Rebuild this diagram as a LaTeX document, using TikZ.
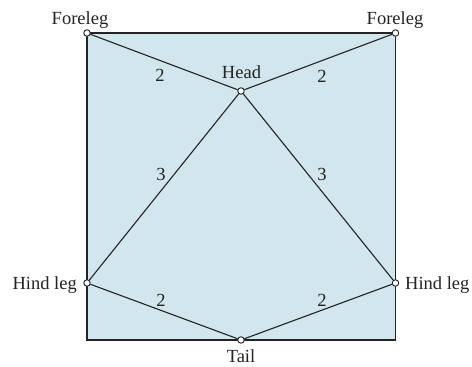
\documentclass[tikz,border=0pt]{standalone}
\usepackage{fontspec}
\setmainfont{Liberation Serif}
\definecolor{panel}{RGB}{209,230,237}
\definecolor{ink}{RGB}{35,35,35}
\begin{document}
\begin{tikzpicture}[x=1pt,y=-1pt,
  joint/.style={circle,draw=ink,fill=white,line width=0.9pt,inner sep=0pt,minimum size=6.5pt},
  edge/.style={draw=ink,line width=1.1pt},
  lbl/.style={font=\fontsize{18.5}{20}\selectfont,text=ink,inner sep=0pt},
  wt/.style={font=\fontsize{18.5}{20}\selectfont,text=ink,inner sep=0pt}]
\useasboundingbox (0,0) rectangle (472,367);
\fill[panel] (87,33) rectangle (395.5,340);
\draw[ink,line width=1.2pt] (87,33) rectangle (395.5,340);
\node[joint] (fl) at (87,33) {};
\node[joint] (fr) at (395.5,33) {};
\node[joint] (h) at (241,91) {};
\node[joint] (hl) at (87,283) {};
\node[joint] (hr) at (395.5,283) {};
\node[joint] (t) at (241,340) {};
\draw[edge] (fl) -- (h);
\draw[edge] (fr) -- (h);
\draw[edge] (hl) -- (h);
\draw[edge] (hr) -- (h);
\draw[edge] (hl) -- (t);
\draw[edge] (hr) -- (t);
\node[lbl,anchor=base] (lfl) at (80,24) {Foreleg};
\node[lbl,anchor=base] (lfr) at (395,24) {Foreleg};
\node[lbl,anchor=base] (lh) at (241.5,78) {Head};
\node[lbl,anchor=base east] (lhl) at (77,289) {Hind leg};
\node[lbl,anchor=base west] (lhr) at (405,289) {Hind leg};
\node[lbl,anchor=base] (lt) at (241,362) {Tail};
\node[wt] (w1) at (160,75) {2};
\node[wt] (w2) at (322,76) {2};
\node[wt] (w3) at (161,174) {3};
\node[wt] (w4) at (322,174) {3};
\node[wt] (w5) at (161,300) {2};
\node[wt] (w6) at (322,300) {2};
\end{tikzpicture}
\end{document}
